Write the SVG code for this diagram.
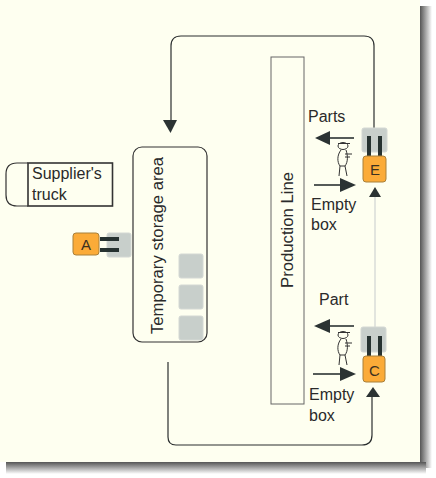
<svg xmlns="http://www.w3.org/2000/svg" width="436" height="478" viewBox="0 0 436 478">
<style>
text{font-family:"Liberation Sans",Arial,sans-serif;font-size:16px;fill:#2a2a2a}
.kt{font-size:15px;fill:#3a3020}
.conn{fill:none;stroke:#2b2f2f;stroke-width:1.2}
.thick{fill:none;stroke:#2b3333;stroke-width:1.6}
.head{fill:#2b3333}
.bar{fill:#263230}
.grey{fill:#c8cfcb;stroke:#d4d8d4;stroke-width:1}
.orange{fill:#fbab38;stroke:#a8803a;stroke-width:1}
.fig{fill:none;stroke:#333;stroke-width:1}
</style>
<defs>
<linearGradient id="sr" x1="0" x2="1" y1="0" y2="0"><stop offset="0" stop-color="#555"/><stop offset="1" stop-color="#fff"/></linearGradient>
<linearGradient id="sb" x1="0" x2="0" y1="0" y2="1"><stop offset="0" stop-color="#555"/><stop offset="1" stop-color="#fff"/></linearGradient>
<g id="person" class="fig">
<ellipse cx="0" cy="5" rx="5" ry="3.500"/><path d="M-5 2.500H7"/>
<path d="M-2 9C-6 14-6 21-3 25L-4 35M3 9C5 15 5 21 2 25L4 35M-3 25H2M2 13H9M2 16H7"/>
</g>
</defs>
<rect width="436" height="478" fill="#fff"/>
<rect x="420" y="6" width="12" height="462" fill="url(#sr)"/>
<rect x="6" y="462" width="420" height="12" fill="url(#sb)"/>
<rect width="420" height="462" fill="#fefff0"/>
<g id="connectors">
<path class="conn" d="M374 128V46Q374 36 364 36H181Q171 36 171 46V121"/>
<polygon class="head" points="163,120 177,120 170.500,133"/>
<path class="conn" d="M168 362V437Q168 445 176 445H362Q372 445 372 435V396"/>
<polygon class="head" points="366,397 380,397 373,387"/>
<path d="M375 197V327" fill="none" stroke="#d8dcd8" stroke-width="1.500"/>
<polygon class="head" points="369,197 381,197 375,187"/>
<path class="thick" d="M354 138H328"/><polygon class="head" points="330,131 330,145 315,138"/>
<path class="thick" d="M314 185H342"/><polygon class="head" points="340,178 340,192 356,185"/>
<path class="thick" d="M354 326H328"/><polygon class="head" points="330,319 330,333 314,326"/>
<path class="thick" d="M313 374H342"/><polygon class="head" points="340,367 340,381 356,374"/>
</g>
<g id="production-line">
<rect x="271" y="57" width="33" height="347" fill="none" stroke="#666" stroke-width="1"/>
<text transform="translate(293 288) rotate(-90)" textLength="116" lengthAdjust="spacingAndGlyphs">Production Line</text>
</g>
<g id="temporary-storage">
<rect x="133" y="147" width="74" height="195" rx="9" fill="none" stroke="#333" stroke-width="1.200"/>
<text transform="translate(163 334) rotate(-90)" textLength="177" lengthAdjust="spacingAndGlyphs">Temporary storage area</text>
<rect class="grey" x="179" y="254" width="24" height="24" rx="2"/>
<rect class="grey" x="179" y="285" width="24" height="24" rx="2"/>
<rect class="grey" x="179" y="316" width="24" height="24" rx="2"/>
</g>
<g id="truck">
<path d="M28 163H17Q6 163 6 174V195Q6 206 17 206H28" fill="none" stroke="#333" stroke-width="1.200"/>
<rect x="28" y="163" width="84.500" height="43" fill="#fefff0" stroke="#333" stroke-width="1.600"/>
<text x="32" y="179">Supplier's</text><text x="32" y="200">truck</text>
</g>
<g id="kanban-a">
<rect class="grey" x="107" y="233" width="24" height="24" rx="2"/>
<rect class="bar" x="100" y="237" width="19" height="4"/><rect class="bar" x="100" y="248" width="19" height="4"/>
<rect class="orange" x="73" y="233" width="26" height="22" rx="3"/>
<text class="kt" x="81" y="250">A</text>
</g>
<g id="kanban-e">
<rect class="grey" x="362" y="128" width="25" height="24" rx="2"/>
<rect class="bar" x="367" y="136" width="4" height="20"/><rect class="bar" x="378" y="136" width="4" height="20"/>
<rect class="orange" x="363" y="156" width="23" height="26" rx="3"/>
<text class="kt" x="370" y="175">E</text>
</g>
<g id="kanban-c">
<rect class="grey" x="361" y="327" width="25" height="25" rx="2"/>
<rect class="bar" x="367" y="336" width="4" height="20"/><rect class="bar" x="378" y="336" width="4" height="20"/>
<rect class="orange" x="363" y="356" width="22" height="26" rx="3"/>
<text class="kt" x="369" y="376">C</text>
</g>
<g id="worker-e"><use href="#person" x="343" y="141"/>
<text x="308" y="122">Parts</text><text x="311" y="210">Empty</text><text x="311" y="230">box</text></g>
<g id="worker-c"><use href="#person" x="343" y="330"/>
<text x="319" y="305">Part</text><text x="309" y="400">Empty</text><text x="309" y="421">box</text></g>
</svg>
